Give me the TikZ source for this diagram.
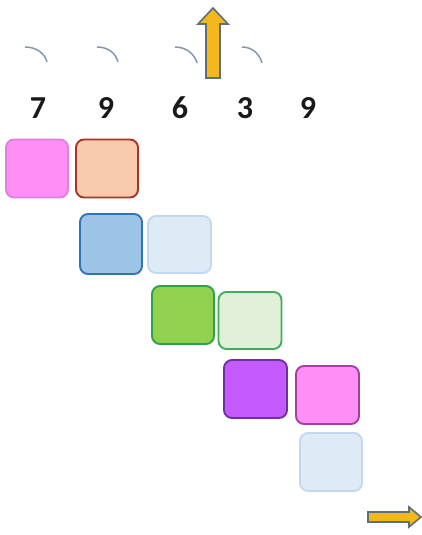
\documentclass[tikz,border=0pt]{standalone}
\usepackage{fontspec}
\setmainfont{Carlito}
\definecolor{pinkF}{HTML}{FF8FF7}
\definecolor{pinkB}{HTML}{E27FDC}
\definecolor{peachF}{HTML}{F8CBAD}
\definecolor{peachB}{HTML}{A9332A}
\definecolor{blueF}{HTML}{9DC3E6}
\definecolor{blueB}{HTML}{2E75B6}
\definecolor{lblueF}{HTML}{DEEBF7}
\definecolor{lblueB}{HTML}{C3D8EE}
\definecolor{greenF}{HTML}{92D050}
\definecolor{greenB}{HTML}{32A04A}
\definecolor{lgreenF}{HTML}{E2F0D9}
\definecolor{lgreenB}{HTML}{3FAE5A}
\definecolor{purpF}{HTML}{C55AFF}
\definecolor{purpB}{HTML}{7030A0}
\definecolor{pink2B}{HTML}{A040A0}
\definecolor{goldF}{HTML}{F5B81C}
\definecolor{goldB}{HTML}{5B6F80}
\definecolor{arcC}{HTML}{8497B0}
\tikzset{
  cell/.style={draw, rounded corners=8pt, line width=1.9pt, inner sep=0pt,
    minimum width=62pt, minimum height=58pt},
  digit/.style={font=\bfseries\fontsize{32}{32}\selectfont, inner sep=0pt, text=black!90},
  tick/.style={draw=arcC, line width=1.5pt},
  fatarrow/.style={fill=goldF, draw=goldB, line width=1.6pt, line join=miter}
}
\begin{document}
\begin{tikzpicture}[x=1pt,y=-1pt]
\useasboundingbox (0,0) rectangle (422,535);
% arcs
\draw[tick] (25,47) .. controls (37,47) and (45,54) .. (47,62);
\draw[tick] (97,47) .. controls (109,47) and (116,54) .. (118,62);
\draw[tick] (175,47) .. controls (187,47) and (195,55) .. (197,63);
\draw[tick] (242,47) .. controls (253,47) and (260,55) .. (262,63);
% digits
\node[digit] (d1) at (38,108) {7};
\node[digit] (d2) at (106,108) {9};
\node[digit] (d3) at (180,108) {6};
\node[digit] (d4) at (245,108) {3};
\node[digit] (d5) at (308,108) {9};
% up arrow
\draw[fatarrow] (206,78) -- (206,24) -- (198,24) -- (213,8) -- (228,24) -- (220,24) -- (220,78) -- cycle;
% cells
\node[cell, fill=pinkF, draw=pinkB] (b1) at (37,168.5) {};
\node[cell, fill=peachF, draw=peachB] (b2) at (107,168.5) {};
\node[cell, fill=blueF, draw=blueB, minimum height=60pt] (b3) at (111,244) {};
\node[cell, fill=lblueF, draw=lblueB, minimum width=63pt, minimum height=57pt] (b4) at (179.5,244.5) {};
\node[cell, fill=greenF, draw=greenB] (b5) at (183,315) {};
\node[cell, fill=lgreenF, draw=lgreenB, minimum width=63pt, minimum height=57pt] (b6) at (250,320.5) {};
\node[cell, fill=purpF, draw=purpB, minimum width=63pt] (b7) at (255.5,389) {};
\node[cell, fill=pinkF, draw=pink2B, minimum width=63pt] (b8) at (327.5,395) {};
\node[cell, fill=lblueF, draw=lblueB] (b9) at (331,462) {};
% right arrow
\draw[fatarrow] (368,512) -- (409,512) -- (409,507) -- (421,517) -- (409,527) -- (409,522) -- (368,522) -- cycle;
\end{tikzpicture}
\end{document}
